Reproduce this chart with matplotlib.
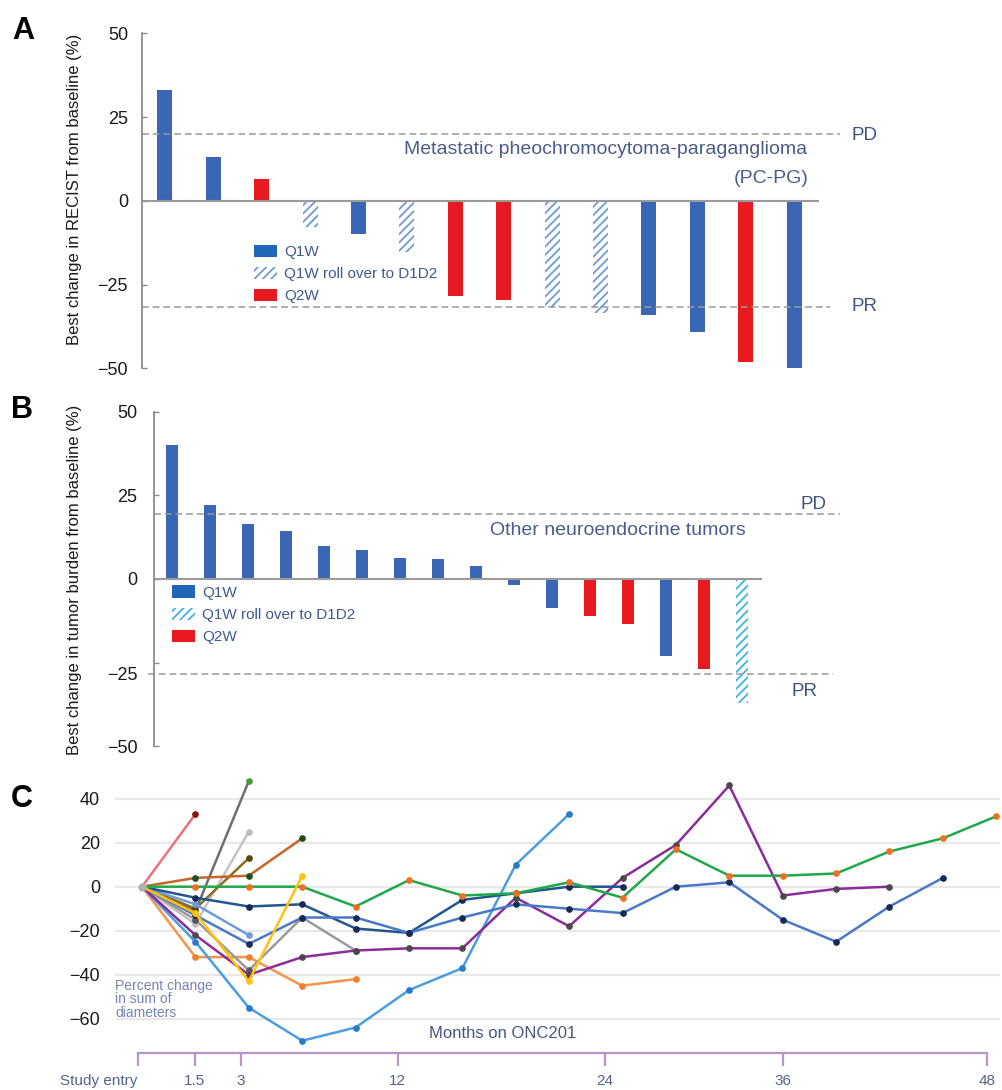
import numpy as np
import matplotlib
matplotlib.use('Agg')
import matplotlib.pyplot as plt
from matplotlib.patches import Patch
from matplotlib.transforms import ScaledTranslation

plt.rcParams['font.family'] = ['Liberation Sans', 'DejaVu Sans']
plt.rcParams['hatch.linewidth'] = 1.3

# ---- panel A: best change in RECIST, PC-PG ----
recist_change = [33, 13, 6.5, -7.7, -10, -15.4, -28.4, -29.6, -31.6, -33.6, -34.1, -39.3, -48.1, -50]
recist_arm = ['Q1W', 'Q1W', 'Q2W', 'D1D2', 'Q1W', 'D1D2', 'Q2W', 'Q2W',
              'D1D2', 'D1D2', 'Q1W', 'Q1W', 'Q2W', 'Q1W']
pd_a, pr_a = 20, -31.6

# ---- panel B: best change in tumor burden, other NETs ----
burden_change = [40, 22.1, 16.4, 14.3, 10, 8.6, 6.4, 6, 3.9, -1.8, -8.6, -11, -13.3, -23, -27, -37.2]
burden_arm = ['Q1W'] * 11 + ['Q2W', 'Q2W', 'Q1W', 'Q2W', 'D1D2']
pd_b, pr_b = 19.4, -28.5

legend_labels = ['Q1W', 'Q1W roll over to D1D2', 'Q2W']

# ---- panel C: percent change in sum of diameters per visit ----
pink = [0, 33]
dark_gray = [0, -11, 48]
light_gray = [0, -17, 25]
olive = [0, -10, 13]
sienna = [0, 4, 5, 22]
green = [0, 0, 0, 0, -9, 3, -4, -3, 2, -5, 17, 5, 5, 6, 16, 22, 32]
dark_blue = [0, -5, -9, -8, -19, -21, -6, -3, 0, 0]
mid_blue = [0, -13, -26, -14, -14, -21, -14, -8, -10, -12, 0, 2, -15, -25, -9, 4]
light_blue = [0, -8, -22]
purple = [0, -22, -40, -32, -29, -28, -28, -5, -18, 4, 19, 46, -4, -1, 0]
sky = [0, -25, -55, -70, -64, -47, -37, 10, 33]
orange = [0, -32, -32, -45, -42]
yellow = [0, -12, -43, 5]
gray = [0, -15, -38, -14, -29]

month_labels = ['Study entry', '1.5', '3', '12', '24', '36', '48']
month_tick_pos = [-0.08, 0.99, 1.85, 4.79, 8.67, 12.0, 15.82]   # in visit units

blue = '#3a67b5'
red = '#e8191f'
txt_col = '#3f5380'

W, H = 1002, 1090
fig = plt.figure(figsize=(W / 100, H / 100), dpi=100)


def px_axes(l, t, r, b):
    return fig.add_axes([l / W, 1 - b / H, (r - l) / W, (b - t) / H])


def draw_bars(ax, vals, arms, width, hatch_col):
    x = np.arange(len(vals))
    vals = np.array(vals)
    arms = np.array(arms)
    m = arms == 'Q1W'
    ax.bar(x[m], vals[m], width, color=blue, lw=0)
    m = arms == 'Q2W'
    ax.bar(x[m], vals[m], width, color=red, lw=0)
    m = arms == 'D1D2'
    ax.bar(x[m], vals[m], width, facecolor='white', edgecolor=hatch_col, hatch='////', lw=0)
    return x


def style_waterfall(ax, pad):
    for s in ['top', 'right', 'bottom']:
        ax.spines[s].set_visible(False)
    ax.spines['left'].set_color('#8c8c8c')
    ax.spines['left'].set_linewidth(1.3)
    ax.set_ylim(-50, 50)
    ax.set_yticks([-50, -25, 0, 25, 50])
    ax.set_xticks([])
    ax.tick_params(axis='y', direction='in', length=3.6, width=1, color='#8c8c8c',
                   labelsize=13, labelcolor='#1a1a1a', pad=pad)


def legend(ax, hatch_col, x, y):
    handles = [Patch(facecolor='#1f66b8', lw=0),
               Patch(facecolor='white', edgecolor=hatch_col, hatch='////', lw=0),
               Patch(facecolor=red, lw=0)]
    ax.legend(handles, legend_labels, loc='upper left', bbox_to_anchor=(x / W, 1 - y / H),
              bbox_transform=fig.transFigure, frameon=False, fontsize=11,
              handlelength=1.5, handleheight=0.85, handletextpad=0.45, labelspacing=0.5,
              borderpad=0, borderaxespad=0, labelcolor='#3d5a8f')


dash = (0, (4.5, 2.5))

# ---------------- A ----------------
axA = px_axes(141.7, 33.3, 845, 368.3)
xA = draw_bars(axA, recist_change, recist_arm, 0.31, '#6e9ad6')
axA.set_xlim(-0.48, 14.05)
style_waterfall(axA, 9.9)
axA.hlines(0, -0.48, xA[-1] + 0.51, color='#9a9a9a', lw=1.5)
axA.plot([-0.48, 13.95], [pd_a, pd_a], ls=dash, color='#999999', lw=1.1)
axA.plot([-0.48, 13.74], [pr_a, pr_a], ls=dash, color='#999999', lw=1.1)
axA.text(14.19, pd_a - 0.5, 'PD', ha='left', va='center', fontsize=13.5, color=txt_col, clip_on=False)
axA.text(14.19, pr_a, 'PR', ha='left', va='center', fontsize=13.5, color=txt_col, clip_on=False)
axA.text(13.26, 15.3, 'Metastatic pheochromocytoma-paraganglioma', ha='right', va='center',
         fontsize=14, color='#4a5d8a')
axA.text(13.29, 6.8, '(PC-PG)', ha='right', va='center', fontsize=14, color='#4a5d8a')
legend(axA, '#6e9ad6', 254, 245)
fig.text(75 / W, 1 - 189.5 / H, 'Best change in RECIST from baseline (%)', rotation=90,
         ha='center', va='center', fontsize=12, color='#1a1a1a')
fig.text(23 / W, 1 - 31 / H, 'A', ha='center', va='center', fontsize=22, fontweight='bold')

# ---------------- B ----------------
axB = px_axes(154, 411.7, 840, 746.3)
xB = draw_bars(axB, burden_change, burden_arm, 0.32, '#3fb3e6')
axB.set_xlim(-0.474, 17.58)
style_waterfall(axB, 12)
axB.hlines(0, -0.474, xB[-1] + 0.52, color='#9a9a9a', lw=1.5)
axB.plot([-0.474, 17.58], [pd_b, pd_b], ls=dash, color='#999999', lw=1.1)
axB.plot([-0.63, 17.39], [pr_b, pr_b], ls=dash, color='#999999', lw=1.1, clip_on=False)
axB.text(16.54, 22.4, 'PD', ha='left', va='center', fontsize=13.5, color=txt_col)
axB.text(16.31, -33.7, 'PR', ha='left', va='center', fontsize=13.5, color=txt_col)
axB.text(8.37, 14.6, 'Other neuroendocrine tumors', ha='left', va='center',
         fontsize=14, color='#4a5d8a')
legend(axB, '#3fb3e6', 172, 585.5)
tk = axB.yaxis.get_major_ticks()[1]
tk.label1.set_transform(tk.label1.get_transform() + ScaledTranslation(0, -0.11, fig.dpi_scale_trans))
fig.text(75 / W, 1 - 580 / H, 'Best change in tumor burden from baseline (%)', rotation=90,
         ha='center', va='center', fontsize=12, color='#1a1a1a')
fig.text(22 / W, 1 - 410 / H, 'B', ha='center', va='center', fontsize=22, fontweight='bold')

# ---------------- C ----------------
axC = px_axes(115, 775, 1000, 1052.7)
series = [
    (pink, '#f0707a', '#7a1a10'),
    (light_gray, '#c4c4c4', '#bdbdbd'),
    (dark_gray, '#6e6e6e', '#4a9a3a'),
    (olive, '#8a6d1e', '#5a4510'),
    (sienna, '#c8642a', '#1e4d1e'),
    (orange, '#f5944a', '#f08030'),
    (gray, '#9a9a9a', '#555555'),
    (sky, '#4a9ee0', '#2a7ac8'),
    (light_blue, '#6f9be0', '#6f9be0'),
    (purple, '#8b2c9b', '#4a4a4a'),
    (dark_blue, '#23558f', '#152a55'),
    (mid_blue, '#4a78c8', '#152a55'),
    (green, '#20a84a', '#f07020'),
    (yellow, '#ffc20e', '#ffc20e'),
]
for vals, lc, mc in series:
    xs = np.arange(len(vals))
    axC.plot(xs, vals, color=lc, lw=1.8, marker='o', ms=3.8, mfc=mc, mec=mc, zorder=3)
axC.plot([0], [green[0]], 'o', color='#b0b0b0', ms=5, zorder=4)

axC.set_xlim(-0.506, 16.07)
axC.set_ylim(-75.45, 50.77)
axC.set_yticks([-60, -40, -20, 0, 20, 40])
axC.grid(axis='y', color='#e8e8e8', lw=1.6)
axC.set_axisbelow(True)
axC.tick_params(axis='y', length=0, pad=10.8, labelsize=13, labelcolor='#1a1a1a')
for s in ['top', 'right', 'left']:
    axC.spines[s].set_visible(False)
purple_axis = '#b497c6'
axC.spines['bottom'].set_color(purple_axis)
axC.spines['bottom'].set_linewidth(1.6)
axC.spines['bottom'].set_bounds(month_tick_pos[0], month_tick_pos[-1])
axC.set_xticks(month_tick_pos)
axC.set_xticklabels(month_labels)
axC.tick_params(axis='x', direction='out', length=9.6, width=1.6, color=purple_axis,
                pad=6, labelsize=11, labelcolor='#52648c')
axC.get_xticklabels()[0].set_ha('right')

fig.text(502.7 / W, 1 - 1034 / H, 'Months on ONC201', ha='center', va='center',
         fontsize=12, color='#46577f')
fig.text(115 / W, 1 - 979 / H, 'Percent change\nin sum of\ndiameters', ha='left', va='top',
         fontsize=10, color='#7683b5', linespacing=0.95)
fig.text(22 / W, 1 - 799 / H, 'C', ha='center', va='center', fontsize=22, fontweight='bold')

fig.savefig('out.png', dpi=100)
